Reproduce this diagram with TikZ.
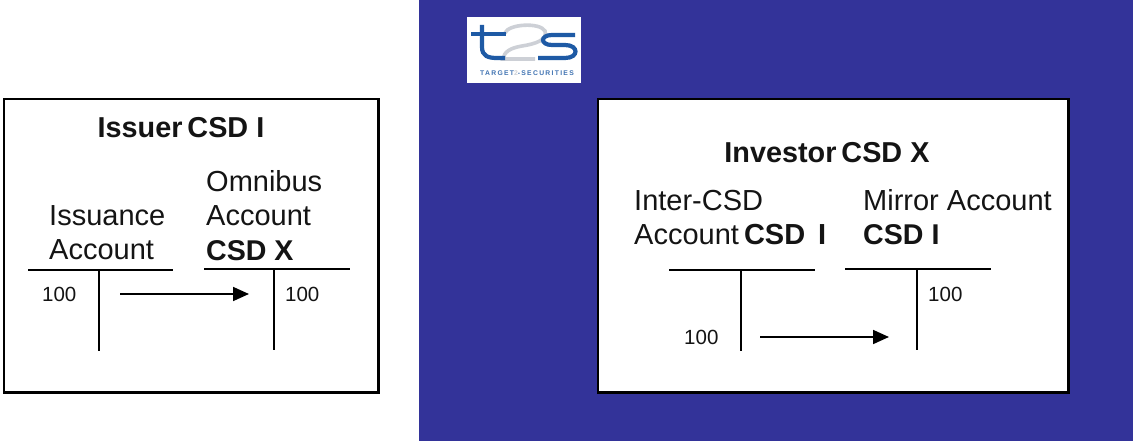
\documentclass[tikz,border=0pt]{standalone}
\usepackage{fontspec}
\setmainfont{Liberation Sans}
\usetikzlibrary{arrows.meta}
\definecolor{bgblue}{RGB}{51,51,153}
\definecolor{logoblue}{RGB}{30,90,165}
\definecolor{logogrey}{RGB}{205,208,214}
\definecolor{inkc}{RGB}{20,20,20}
\tikzset{
  x=1pt,y=-1pt,
  panel/.style={draw=black,fill=white,line width=2.4pt},
  rule/.style={draw=black,line width=2.4pt},
  flow/.style={draw=black,line width=1.8pt,-{Triangle[length=16pt,width=14pt]}},
  title/.style={font=\fontsize{28.8}{34}\selectfont\bfseries,text=inkc,anchor=base,inner sep=0pt},
  lab/.style={font=\fontsize{29}{34}\selectfont,text=inkc,anchor=base west,inner sep=0pt},
  num/.style={font=\fontsize{20.5}{24}\selectfont,text=inkc,anchor=base west,inner sep=0pt},
  logot/.style={line width=4.2pt,draw=logoblue},
  logo2/.style={line width=3.6pt,draw=logogrey},
}
\begin{document}
\begin{tikzpicture}
\useasboundingbox (0,0) rectangle (1133,441);
\fill[white] (0,0) rectangle (1133,441);
\fill[bgblue] (419,0) rectangle (1133,441);
% logo
\node[fill=white,draw=none,minimum width=114pt,minimum height=66pt,inner sep=0pt,anchor=north west] (logo) at (467,17) {};
\draw[logo2] (505,33) .. controls (508,24) and (540,22) .. (545,31) .. controls (548,40) and (535,44) .. (522,46) .. controls (510,48) and (504,52) .. (503,59) -- (535,59);
\draw[logot] (482,25) -- (482,47) .. controls (482,56) and (488,58) .. (497,58) -- (505,58);
\draw[logot] (471,34) -- (506,34);
\draw[logot] (575,35) -- (552,35) .. controls (540,35) and (540,45) .. (552,45) -- (565,45) .. controls (579,45) and (579,58) .. (565,58) -- (538,58);
\node[font=\fontsize{6.8}{7}\selectfont\bfseries\addfontfeature{LetterSpace=19},text=logoblue!85!white,inner sep=0pt] (logotext) at (527,73) {TARGET\textcolor{logogrey}{2}-SECURITIES};
% left panel
\node[panel,minimum width=374.4pt,minimum height=293.4pt,inner sep=0pt,anchor=north west] (issuer) at (2.8,97.8) {};
\node[title] (issuertitle) at (181,138) {Issuer\hspace{-3pt} CSD I};
\node[lab] (issuance) at (49,225) {Issuance};
\node[lab] (issacc) at (49,259) {Account};
\node[lab] (omni) at (206,191) {Omnibus};
\node[lab] (omacc) at (206,225) {Account};
\node[lab,font=\fontsize{28.6}{34}\selectfont\bfseries] (omcsd) at (206,260) {CSD X};
\coordinate (ta) at (28,270); \coordinate (tb) at (173,270);
\coordinate (tc) at (99,270); \coordinate (td) at (99,351);
\coordinate (te) at (204,269); \coordinate (tf) at (350,269);
\coordinate (tg) at (274,269); \coordinate (th) at (274,350);
\draw[rule] (ta) -- (tb);
\draw[rule] (tc) -- (td);
\draw[rule] (te) -- (tf);
\draw[rule] (tg) -- (th);
\node[num] (n1) at (42,301) {100};
\node[num] (n2) at (285,301) {100};
\coordinate (a1) at (120,294); \coordinate (a2) at (249,294);
\draw[flow] (a1) -- (a2);
% right panel
\node[panel,minimum width=470.4pt,minimum height=293.4pt,inner sep=0pt,anchor=north west] (investor) at (596.8,97.8) {};
\node[title] (invtitle) at (827,163) {Investor\hspace{-3pt} CSD X};
\node[lab] (inter) at (634,210) {Inter-CSD};
\node[lab] (interacc) at (634,244) {Account\hspace{-3pt} \textbf{CSD\, I}};
\node[lab] (mirror) at (863,210) {Mirror Account};
\node[lab,font=\fontsize{28.6}{34}\selectfont\bfseries] (mircsd) at (863,244) {CSD I};
\coordinate (ra) at (669,270); \coordinate (rb) at (815,270);
\coordinate (rc) at (741,270); \coordinate (rd) at (741,351);
\coordinate (re) at (845,269); \coordinate (rf) at (991,269);
\coordinate (rg) at (917,269); \coordinate (rh) at (917,350);
\draw[rule] (ra) -- (rb);
\draw[rule] (rc) -- (rd);
\draw[rule] (re) -- (rf);
\draw[rule] (rg) -- (rh);
\node[num] (n3) at (928,301) {100};
\node[num] (n4) at (684,344) {100};
\coordinate (b1) at (760,337); \coordinate (b2) at (889,337);
\draw[flow] (b1) -- (b2);
\end{tikzpicture}
\end{document}
